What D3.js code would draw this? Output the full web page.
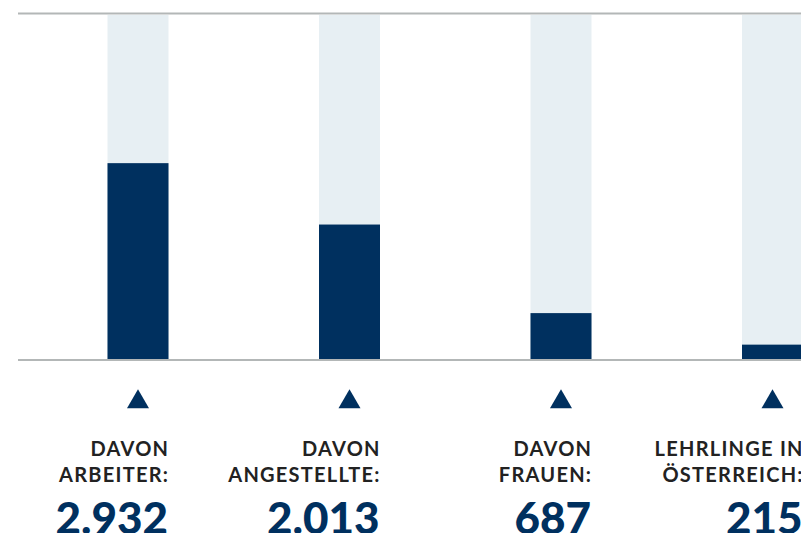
<!DOCTYPE html>
<html>
<head>
<meta charset="utf-8">
<script src="https://cdn.jsdelivr.net/npm/d3@7"></script>
<style>
  html, body { margin: 0; padding: 0; background: #fff; }
  svg { display: block; }
</style>
</head>
<body>
<svg id="chart" width="801" height="533"></svg>
<script>
const categories = ["arbeiter", "angestellte", "frauen", "lehrlinge"];
const labelLine1 = ["DAVON", "DAVON", "DAVON", "LEHRLINGE IN"];
const labelLine2 = ["ARBEITER:", "ANGESTELLTE:", "FRAUEN:", "ÖSTERREICH:"];
const values = [2932, 2013, 687, 215];
const valueLabels = ["2.932", "2.013", "687", "215"];
const totalMax = 5150;

const svg = d3.select("#chart");
const navy = "#00305f";
const light = "#e7eff3";
const gray = "#b3b7b7";

const x = d3.scaleBand()
  .domain(categories)
  .range([32.25, 878.25])
  .paddingInner(0.7116)
  .paddingOuter(0.3558);

const y = d3.scaleLinear().domain([0, totalMax]).range([359, 15]);

// background bars
svg.append("g").selectAll("rect")
  .data(categories)
  .join("rect")
  .attr("x", d => x(d))
  .attr("width", x.bandwidth())
  .attr("y", y(totalMax))
  .attr("height", y(0) - y(totalMax))
  .attr("fill", light);

// value bars
svg.append("g").selectAll("rect")
  .data(values)
  .join("rect")
  .attr("x", (d, i) => x(categories[i]))
  .attr("width", x.bandwidth())
  .attr("y", d => y(d))
  .attr("height", d => y(0) - y(d))
  .attr("fill", navy);

// top & bottom rules
svg.append("line").attr("x1", 18).attr("x2", 801)
  .attr("y1", y(totalMax) - 1.5).attr("y2", y(totalMax) - 1.5)
  .attr("stroke", gray).attr("stroke-width", 2);
svg.append("line").attr("x1", 18).attr("x2", 801)
  .attr("y1", y(0) + 1).attr("y2", y(0) + 1)
  .attr("stroke", gray).attr("stroke-width", 2);

// triangles
const tri = d3.symbol().type(d3.symbolTriangle).size(210);
svg.append("g").selectAll("path")
  .data(categories)
  .join("path")
  .attr("d", tri)
  .attr("transform", d => `translate(${x(d) + x.bandwidth() / 2},${402})`)
  .attr("fill", navy);

// labels
const lab = svg.append("g")
  .attr("font-family", "Lato, 'Noto Sans', sans-serif")
  .attr("text-anchor", "end");

categories.forEach((c, i) => {
  const xr = x(c) + x.bandwidth() - 0.5;
  lab.append("text").attr("x", xr + 1.25).attr("y", 455.7)
    .attr("font-size", 20).attr("font-weight", 700).attr("fill", "#222")
    .attr("letter-spacing", 1.25)
    .text(labelLine1[i]);
  lab.append("text").attr("x", xr + 1.25).attr("y", 481.7)
    .attr("font-size", 20).attr("font-weight", 700).attr("fill", "#222")
    .attr("letter-spacing", 1.25)
    .text(labelLine2[i]);
  lab.append("text").attr("x", xr).attr("y", 533.5)
    .attr("font-size", 44).attr("font-weight", 900).attr("fill", navy)
    .text(valueLabels[i]);
});
</script>
</body>
</html>
